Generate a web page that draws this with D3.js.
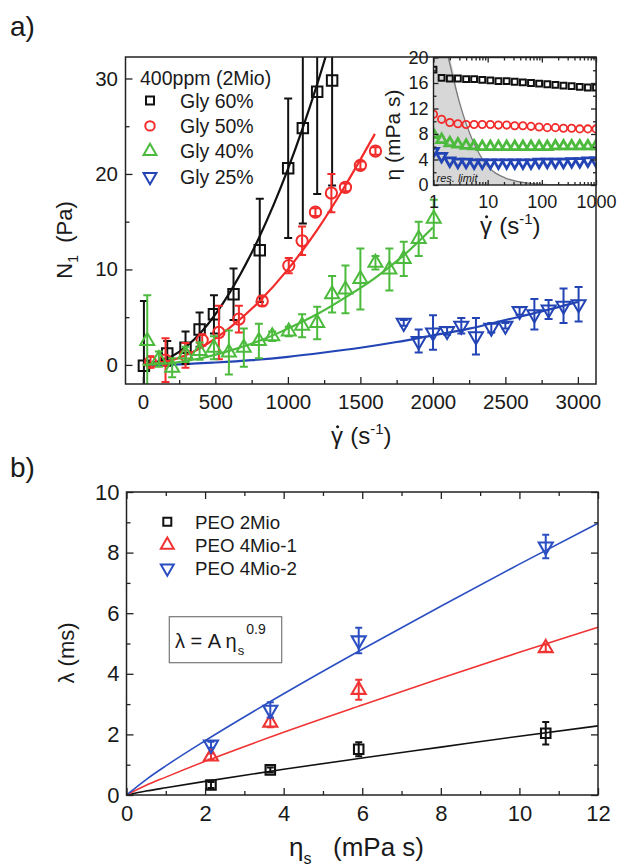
<!DOCTYPE html>
<html><head><meta charset="utf-8">
<script src="https://cdn.jsdelivr.net/npm/d3@7"></script>
<style>
body{margin:0;background:#fff}
text{font-family:"Liberation Sans",Arial,Helvetica,sans-serif;fill:#1a1a1a}
</style></head><body>
<svg id="c" width="617" height="866"></svg>
<script>
// ---------- Panel a: N1 vs shear rate ----------
const blackG   = [7, 168, 294, 391, 490, 625, 806, 1002, 1103, 1202, 1305];
const blackN1  = [-0.1, 1.2, 1.8, 3.7, 5.3, 7.4, 12.0, 20.6, 24.8, 28.6, 29.8];
const blackErr = [6.8, 1.3, 1.7, 1.8, 2.0, 2.7, 5.4, 7.3, 10.0, 10.7, 11.0];

const redG   = [53, 156, 294, 409, 524, 662, 823, 1006, 1098, 1190, 1300, 1397, 1500, 1604];
const redN1  = [0.3, 0.5, 1.0, 2.6, 3.4, 4.8, 6.7, 10.4, 13.0, 16.0, 18.0, 18.6, 20.9, 22.4];
const redErr = [0.6, 2.3, 1.3, 0.6, 2.8, 1.4, 0.5, 0.8, 1.5, 0.4, 2.0, 0.4, 0.4, 0.4];

const greenG   = [30, 110, 202, 294, 391, 490, 593, 696, 800, 892, 1006, 1098, 1202, 1305, 1397, 1500, 1604, 1700, 1799, 1902, 2006];
const greenN1  = [2.5, 0.6, -0.3, 1.1, 1.45, 1.8, 1.3, 1.8, 2.5, 3.0, 3.5, 4.1, 4.4, 7.4, 7.9, 9.0, 10.7, 10.0, 11.1, 13.2, 15.3];
const greenErr = [4.8, 0.8, 1.0, 0.8, 0.9, 1.2, 2.3, 2.0, 1.8, 0.5, 0.5, 1.2, 1.7, 1.9, 2.5, 3.2, 0.7, 2.2, 1.8, 1.8, 2.0];

const blueG   = [1799, 1902, 2001, 2098, 2196, 2297, 2403, 2500, 2598, 2700, 2798, 2901, 3005];
const blueN1  = [4.4, 2.5, 3.4, 3.55, 4.1, 3.0, 3.9, 4.1, 5.65, 5.3, 5.8, 6.2, 6.35];
const blueErr = [0.3, 1.2, 1.8, 0.4, 0.8, 1.9, 0.5, 0.3, 0.4, 1.6, 1.0, 1.8, 1.8];

// fit curves
const fitBlackG = [0, 200, 400, 600, 800, 1000, 1200, 1300];
const fitBlackN = [0, 0.9, 3.4, 7.6, 13.3, 20.5, 29.3, 34.3];
const fitRedG = [0, 200, 400, 600, 800, 1000, 1200, 1400, 1600];
const fitRedN = [0, 0.5, 1.8, 3.9, 6.6, 10.0, 14.1, 18.9, 24.2];
const fitGreenG = [0, 200, 400, 600, 800, 1000, 1200, 1400, 1600, 1800, 2000];
const fitGreenN = [0, 0.2, 0.7, 1.5, 2.5, 3.8, 5.3, 7.1, 9.1, 11.5, 14.4];
const fitBlueG = [0, 250, 500, 750, 1000, 1250, 1500, 1750, 2000, 2250, 2500, 2750, 3000];
const fitBlueN = [0, 0.06, 0.25, 0.5, 0.85, 1.3, 1.8, 2.4, 3.1, 3.8, 4.7, 5.6, 6.6];

const legendA = ["Gly 60%", "Gly 50%", "Gly 40%", "Gly 25%"];
const xTicksA = [0, 500, 1000, 1500, 2000, 2500, 3000];
const xMinorA = [250, 750, 1250, 1750, 2250, 2750];
const yTicksA = [0, 10, 20, 30];
const yMinorA = [5, 15, 25];

// ---------- Inset: viscosity ----------
const insetG = [1, 1.41, 2, 2.82, 4, 5.62, 7.94, 11.2, 15.8, 22.4, 31.6, 44.7, 63.1, 89.1, 126, 178, 251, 355, 501, 708, 1000];
const insetBlack = [18.1, 16.8, 16.7, 16.7, 16.6, 16.6, 16.5, 16.4, 16.3, 16.3, 16.2, 16.1, 16.0, 15.9, 15.8, 15.7, 15.6, 15.5, 15.4, 15.3, 15.3];
const insetRed   = [11.1, 10.3, 9.8, 9.6, 9.5, 9.5, 9.5, 9.5, 9.4, 9.4, 9.3, 9.3, 9.2, 9.1, 9.0, 9.0, 8.9, 8.9, 8.8, 8.8, 8.8];
const insetGreen = [7.9, 7.1, 6.6, 6.4, 6.2, 6.1, 6.0, 6.0, 6.0, 6.0, 6.0, 6.0, 6.0, 6.0, 6.0, 6.1, 6.1, 6.1, 6.1, 6.1, 6.1];
const insetBlue  = [5.3, 4.5, 3.8, 3.6, 3.6, 3.5, 3.5, 3.5, 3.5, 3.5, 3.5, 3.5, 3.5, 3.6, 3.6, 3.6, 3.6, 3.7, 3.7, 3.8, 3.8];
const resLimitG   = [1, 1.88, 3.1, 5.4, 9.5, 22, 60, 180, 1000];
const resLimitEta = [20, 20, 12.6, 6.8, 3.2, 1.05, 0.26, 0.05, 0.0];
const xTicksI = [1, 10, 100, 1000];
const xMinorI = [2,3,4,5,6,7,8,9,20,30,40,50,60,70,80,90,200,300,400,500,600,700,800,900];
const yTicksI = [0, 4, 8, 12, 16, 20];
const yMinorI = [2, 6, 10, 14, 18];

// ---------- Panel b: relaxation time ----------
const etaS = [2.15, 3.66, 5.91, 10.67];
const lam2Mio  = [0.33, 0.83, 1.51, 2.04];
const err2Mio  = [0.1, 0.08, 0.23, 0.37];
const lam4Mio1 = [1.27, 2.39, 3.47, 4.85];
const err4Mio1 = [0.1, 0.15, 0.33, 0.12];
const lam4Mio2 = [1.66, 2.81, 5.1, 8.2];
const err4Mio2 = [0.1, 0.25, 0.42, 0.39];
const fitEta   = [0, 0.5, 1, 2, 4, 6, 8, 10, 12];
const fit2Mio  = [0, 0.13, 0.24, 0.45, 0.85, 1.22, 1.58, 1.94, 2.28];
const fit4Mio1 = [0, 0.32, 0.59, 1.11, 2.07, 2.97, 3.85, 4.71, 5.54];
const fit4Mio2 = [0, 0.51, 0.96, 1.79, 3.34, 4.81, 6.23, 7.62, 8.97];
const legendB = ["PEO 2Mio", "PEO 4Mio-1", "PEO 4Mio-2"];
const xTicksB = [0, 2, 4, 6, 8, 10, 12];
const xMinorB = [1, 3, 5, 7, 9, 11];
const yTicksB = [0, 2, 4, 6, 8, 10];
const yMinorB = [1, 3, 5, 7, 9];

// ---------- drawing ----------
const FONT = '"Liberation Sans",Arial,Helvetica,sans-serif';
const BLACK = '#111', RED = '#f22b2b', GREEN = '#4cbb3d', BLUE = '#2344b5';
const REDB = '#f03434', BLUEB = '#2b4fc2';
const svg = d3.select('#c');
svg.append('rect').attr('width', 617).attr('height', 866).attr('fill', '#fff');

function sym(shape, size) {
  const t = shape === 'square' ? d3.symbolSquare : shape === 'circle' ? d3.symbolCircle : d3.symbolTriangle;
  return d3.symbol().type(t).size(size)();
}
function addMarkers(g, xs, ys, sx, sy, color, shape, size, sw) {
  g.append('g').selectAll('path').data(xs.map((x, i) => [x, ys[i]])).join('path')
    .attr('d', sym(shape, size))
    .attr('transform', d => `translate(${sx(d[0])},${sy(d[1])})${shape === 'down' ? ' rotate(180)' : ''}`)
    .attr('fill', 'none').attr('stroke', color).attr('stroke-width', sw);
}
function addErrors(g, xs, ys, es, sx, sy, color, cap, sw) {
  const d = xs.map((x, i) => ({ x: sx(x), lo: sy(ys[i] - es[i]), hi: sy(ys[i] + es[i]) }));
  g.append('g').attr('stroke', color).attr('stroke-width', sw).attr('fill', 'none')
    .selectAll('path').data(d).join('path')
    .attr('d', p => `M${p.x},${p.lo}V${p.hi}M${p.x - cap},${p.hi}H${p.x + cap}M${p.x - cap},${p.lo}H${p.x + cap}`);
}
function addLine(g, xs, ys, sx, sy, color, sw) {
  g.append('path').datum(xs.map((x, i) => [x, ys[i]]))
    .attr('d', d3.line().x(d => sx(d[0])).y(d => sy(d[1])).curve(d3.curveMonotoneX))
    .attr('fill', 'none').attr('stroke', color).attr('stroke-width', sw);
}
function axis(g, gen, scale, vals, size, pad, fmt, tx, ty, fs) {
  const a = g.append('g').attr('transform', `translate(${tx},${ty})`)
    .call(gen(scale).tickValues(vals).tickSize(size).tickPadding(pad).tickFormat(fmt));
  a.select('.domain').remove();
  a.selectAll('line').attr('stroke', '#222').attr('stroke-width', 1.3);
  a.selectAll('text').attr('font-size', fs).attr('font-family', FONT).attr('fill', '#1a1a1a');
  return a;
}
function gammaTitle(g, x, y, fs) {
  const t = g.append('text').attr('x', x).attr('y', y).attr('font-size', fs);
  t.append('tspan').text('γ');
  const w = t.node().getComputedTextLength();
  t.append('tspan').attr('dx', fs * 0.3).text('(s');
  t.append('tspan').attr('font-size', fs * 0.62).attr('dy', -fs * 0.42).text('-1');
  t.append('tspan').attr('dy', fs * 0.42).text(')');
  // the dot over gamma (derivative mark)
  g.append('circle').attr('cx', x + w * 0.55).attr('cy', y - fs * 0.72).attr('r', fs * 0.065)
    .attr('fill', '#1a1a1a');
}

// ===== Panel a =====
const A = { l: 125.5, r: 596, t: 57, b: 384 };
const xA = d3.scaleLinear([-120, 3125], [A.l, A.r]);
const yA = d3.scaleLinear([-2, 32.25], [A.b, A.t]);
const gA = svg.append('g');
svg.append('clipPath').attr('id', 'clipA').append('rect')
  .attr('x', A.l).attr('y', A.t).attr('width', A.r - A.l).attr('height', A.b - A.t);
const dA = gA.append('g').attr('clip-path', 'url(#clipA)');

const seriesA = [
  [blueG, blueN1, blueErr, fitBlueG, fitBlueN, BLUE, 'down', 85],
  [blackG, blackN1, blackErr, fitBlackG, fitBlackN, BLACK, 'square', 110],
  [redG, redN1, redErr, fitRedG, fitRedN, RED, 'circle', 100],
  [greenG, greenN1, greenErr, fitGreenG, fitGreenN, GREEN, 'up', 85]
];
seriesA.forEach(s => {
  addLine(dA, s[3], s[4], xA, yA, s[5], 2.2);
  addErrors(dA, s[0], s[1], s[2], xA, yA, s[5], 4, 2);
  addMarkers(dA, s[0], s[1], xA, yA, s[5], s[6], s[7], 2);
});

gA.append('rect').attr('x', A.l).attr('y', A.t).attr('width', A.r - A.l).attr('height', A.b - A.t)
  .attr('fill', 'none').attr('stroke', '#222').attr('stroke-width', 1.5);
axis(gA, d3.axisLeft, yA, yTicksA, -7, 7.5, d3.format('d'), A.l, 0, 20.5);
axis(gA, d3.axisLeft, yA, yMinorA, -4, 7.5, '', A.l, 0, 20.5);
axis(gA, d3.axisBottom, xA, xTicksA, -7, 10, d3.format('d'), 0, A.b, 20.5);
axis(gA, d3.axisBottom, xA, xMinorA, -4, 10, '', 0, A.b, 20.5);

// legend a
gA.append('text').attr('x', 140).attr('y', 85).attr('font-size', 19.5).text('400ppm (2Mio)');
const legShapesA = [[BLACK, 'square', 64], [RED, 'circle', 70], [GREEN, 'up', 72], [BLUE, 'down', 72]];
legendA.forEach((name, i) => {
  const cy = 100.5 + i * 25.4;
  gA.append('path').attr('d', sym(legShapesA[i][1], legShapesA[i][2]))
    .attr('transform', `translate(150,${cy})${legShapesA[i][1] === 'down' ? ' rotate(180)' : ''}`)
    .attr('fill', 'none').attr('stroke', legShapesA[i][0]).attr('stroke-width', 2);
  gA.append('text').attr('x', 180).attr('y', cy + 7).attr('font-size', 19.5).text(name);
});

// titles a
svg.append('text').attr('x', 10).attr('y', 36).attr('font-size', 28).text('a)');
gammaTitle(svg, 331, 444, 24);
const ytA = svg.append('text').attr('transform', 'translate(72,240) rotate(-90)')
  .attr('text-anchor', 'middle').attr('font-size', 22);
ytA.append('tspan').text('N');
ytA.append('tspan').attr('font-size', 14).attr('dy', 6).text('1');
ytA.append('tspan').attr('dy', -6).text('\u00a0 (Pa)');

// ===== Inset =====
const I = { l: 433.5, r: 596, t: 57.5, b: 185 };
const xI = d3.scaleLog([1, 1000], [I.l, I.r]);
const yI = d3.scaleLinear([0, 20], [I.b, I.t]);
const gI = svg.append('g');
gI.append('rect').attr('x', I.l).attr('y', I.t).attr('width', I.r - I.l).attr('height', I.b - I.t).attr('fill', '#fff');
svg.append('clipPath').attr('id', 'clipI').append('rect')
  .attr('x', I.l).attr('y', I.t).attr('width', I.r - I.l).attr('height', I.b - I.t);
const dI = gI.append('g').attr('clip-path', 'url(#clipI)');
const resPts = resLimitG.map((g, i) => [g, resLimitEta[i]]);
dI.append('path').datum(resPts)
  .attr('d', d3.area().x(d => xI(d[0])).y0(I.b).y1(d => yI(d[1])).curve(d3.curveMonotoneX))
  .attr('fill', '#d7d7d7');
dI.append('path').datum(resPts.slice(1))
  .attr('d', d3.line().x(d => xI(d[0])).y(d => yI(d[1])).curve(d3.curveMonotoneX))
  .attr('fill', 'none').attr('stroke', '#7a7a7a').attr('stroke-width', 1.3);
dI.append('text').attr('x', I.l + 3).attr('y', I.b - 3).attr('font-size', 11)
  .attr('font-style', 'italic').attr('fill', '#555').text('res. limit');
addMarkers(dI, insetG, insetBlue, xI, yI, BLUE, 'down', 42, 2.8);
addMarkers(dI, insetG, insetGreen, xI, yI, GREEN, 'up', 42, 2.8);
addMarkers(dI, insetG, insetRed, xI, yI, RED, 'circle', 42, 1.8);
addMarkers(dI, insetG, insetBlack, xI, yI, BLACK, 'square', 34, 2);
gI.append('rect').attr('x', I.l).attr('y', I.t).attr('width', I.r - I.l).attr('height', I.b - I.t)
  .attr('fill', 'none').attr('stroke', '#222').attr('stroke-width', 1.4);
axis(gI, d3.axisLeft, yI, yTicksI, -5, 5, d3.format('d'), I.l, 0, 18);
axis(gI, d3.axisLeft, yI, yMinorI, -3, 5, '', I.l, 0, 18);
axis(gI, d3.axisRight, yI, yTicksI, -5, 5, '', I.r, 0, 18);
axis(gI, d3.axisRight, yI, yMinorI, -3, 5, '', I.r, 0, 18);
axis(gI, d3.axisBottom, xI, xTicksI, -5, 10, d3.format('d'), 0, I.b, 18);
axis(gI, d3.axisBottom, xI, xMinorI, -3, 10, '', 0, I.b, 18);
axis(gI, d3.axisTop, xI, xTicksI, -5, 5, '', 0, I.t, 18);
axis(gI, d3.axisTop, xI, xMinorI, -3, 5, '', 0, I.t, 18);
gammaTitle(svg, 480, 234, 24);
svg.append('text').attr('transform', 'translate(400,135) rotate(-90)')
  .attr('text-anchor', 'middle').attr('font-size', 21).text('η (mPa s)');

// ===== Panel b =====
const B = { l: 126.5, r: 598, t: 492, b: 795 };
const xB = d3.scaleLinear([0, 12], [B.l, B.r]);
const yB = d3.scaleLinear([0, 10], [B.b, B.t]);
const gB = svg.append('g');
const seriesB = [
  [lam2Mio, err2Mio, fit2Mio, BLACK, 'square', 90],
  [lam4Mio1, err4Mio1, fit4Mio1, REDB, 'up', 85],
  [lam4Mio2, err4Mio2, fit4Mio2, BLUEB, 'down', 85]
];
seriesB.forEach(s => addLine(gB, fitEta, s[2], xB, yB, s[3], 1.6));
seriesB.forEach(s => {
  addErrors(gB, etaS, s[0], s[1], xB, yB, s[3], 3.5, 2);
  addMarkers(gB, etaS, s[0], xB, yB, s[3], s[4], s[5], 2.1);
});
gB.append('rect').attr('x', B.l).attr('y', B.t).attr('width', B.r - B.l).attr('height', B.b - B.t)
  .attr('fill', 'none').attr('stroke', '#222').attr('stroke-width', 1.5);
axis(gB, d3.axisLeft, yB, yTicksB, -7, 7, d3.format('d'), B.l, 0, 22);
axis(gB, d3.axisLeft, yB, yMinorB, -4, 7, '', B.l, 0, 22);
axis(gB, d3.axisRight, yB, yTicksB, -7, 7, '', B.r, 0, 22);
axis(gB, d3.axisRight, yB, yMinorB, -4, 7, '', B.r, 0, 22);
axis(gB, d3.axisBottom, xB, xTicksB, -7, 10.5, d3.format('d'), 0, B.b, 22);
axis(gB, d3.axisBottom, xB, xMinorB, -4, 10.5, '', 0, B.b, 22);
axis(gB, d3.axisTop, xB, xTicksB, -7, 7, '', 0, B.t, 22);
axis(gB, d3.axisTop, xB, xMinorB, -4, 7, '', 0, B.t, 22);

// legend b
const legShapesB = [[BLACK, 'square', 64], [REDB, 'up', 72], [BLUEB, 'down', 72]];
legendB.forEach((name, i) => {
  const cy = 521.7 + i * 23.3;
  gB.append('path').attr('d', sym(legShapesB[i][1], legShapesB[i][2]))
    .attr('transform', `translate(167.3,${cy})${legShapesB[i][1] === 'down' ? ' rotate(180)' : ''}`)
    .attr('fill', 'none').attr('stroke', legShapesB[i][0]).attr('stroke-width', 2);
  gB.append('text').attr('x', 195).attr('y', cy + 6.8).attr('font-size', 18.7).text(name);
});

// formula box
gB.append('rect').attr('x', 169.3).attr('y', 616.7).attr('width', 112.4).attr('height', 46)
  .attr('fill', '#fff').attr('stroke', '#777').attr('stroke-width', 1.2);
const ft = gB.append('text').attr('x', 175).attr('y', 648).attr('font-size', 20);
ft.append('tspan').text('λ = A η');
ft.append('tspan').attr('font-size', 13).attr('dx', 1).attr('dy', 7).text('s');
ft.append('tspan').attr('font-size', 14).attr('dx', 2).attr('dy', -21).text('0.9');

// titles b
svg.append('text').attr('x', 10).attr('y', 477).attr('font-size', 28).text('b)');
const xtB = svg.append('text').attr('x', 289).attr('y', 856).attr('font-size', 26);
xtB.append('tspan').text('η');
xtB.append('tspan').attr('font-size', 16).attr('dy', 8).text('s');
xtB.append('tspan').attr('x', 333).attr('dy', -8).text('(mPa s)');
svg.append('text').attr('transform', 'translate(74,653) rotate(-90)')
  .attr('text-anchor', 'middle').attr('font-size', 22).text('λ  (ms)');
</script>
</body></html>
